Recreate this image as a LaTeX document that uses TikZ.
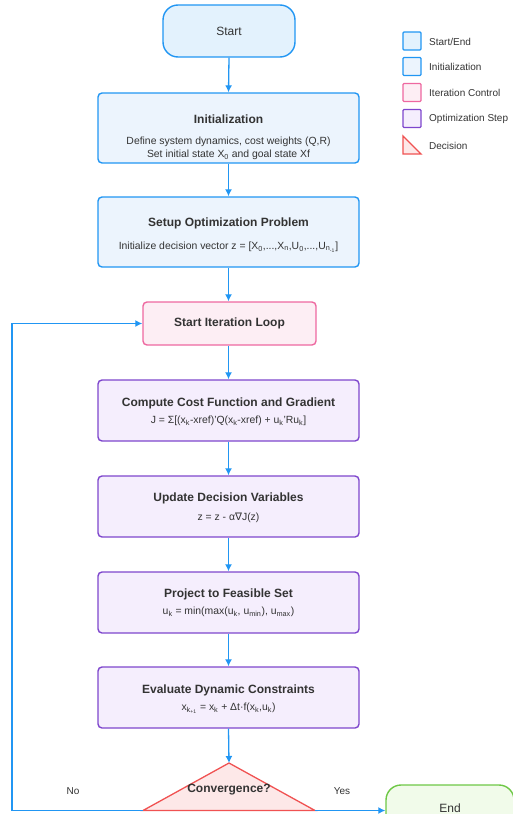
\documentclass[tikz,border=0pt]{standalone}
\usepackage{fontspec}
\setmainfont{Liberation Sans}
\newfontfamily\symfont{DejaVu Sans}
\usetikzlibrary{arrows.meta,calc,positioning}
\definecolor{lineblue}{RGB}{33,150,243}
\definecolor{startfill}{RGB}{227,242,253}
\definecolor{initfill}{RGB}{236,244,253}
\definecolor{iterdraw}{RGB}{238,104,160}
\definecolor{iterfill}{RGB}{253,238,244}
\definecolor{optdraw}{RGB}{126,70,205}
\definecolor{optfill}{RGB}{245,238,253}
\definecolor{decdraw}{RGB}{240,82,82}
\definecolor{decfill}{RGB}{253,232,232}
\definecolor{enddraw}{RGB}{110,200,70}
\definecolor{endfill}{RGB}{241,251,234}
\definecolor{textgray}{RGB}{51,51,51}

\begin{document}
\begin{tikzpicture}[x=1pt,y=-1pt,
              box/.style={draw,rounded corners=4pt,line width=1.4pt,
                  minimum width=261pt,inner sep=0pt},
              terminal/.style={draw,rounded corners=15pt,line width=1.4pt,
                  inner sep=0pt,text=textgray,font=\fontsize{12}{14}\selectfont},
              initbox/.style={box,draw=lineblue,fill=initfill},
              optbox/.style={box,draw=optdraw,fill=optfill,minimum height=61pt},
              ttl/.style={font=\bfseries\fontsize{12}{14}\selectfont,text=textgray,inner sep=0pt},
              body/.style={font=\fontsize{10.4}{13}\selectfont,text=textgray,
                  align=center,inner sep=0pt},
              legtext/.style={font=\fontsize{10}{12}\selectfont,text=textgray,
                  anchor=west,inner sep=0pt},
              legbox/.style={draw,line width=1.3pt,rounded corners=1pt,
                  minimum size=18pt,inner sep=0pt},
              flow/.style={-{Latex[length=7pt,width=7pt]},draw=lineblue,line width=1.3pt}
            ]
            \useasboundingbox (0,0) rectangle (512,814);

            % start and set-up
            \node[terminal,draw=lineblue,fill=startfill,minimum width=132pt,
                  minimum height=52pt] (start) at (229,31) {Start};
            \node[initbox,minimum height=70pt] (init) at (228.5,128) {};
            \node[ttl] (initT) at (228.5,119) {Initialization};
            \node[body] (initB) at (228.5,148.5) {Define system dynamics, cost weights (Q,R)\\
              Set initial state X\textsubscript{0} and goal state Xf};
            \node[initbox,minimum height=70pt] (setup) at (228.5,232) {};
            \node[ttl] (setupT) at (228.5,223) {Setup Optimization Problem};
            \node[body] (setupB) at (228.5,247) {Initialize decision vector z =
              [X\textsubscript{0},...,X\textsubscript{n},U\textsubscript{0},...,U\textsubscript{n\textsubscript{-1}}]};

            % iteration
            \node[box,draw=iterdraw,fill=iterfill,minimum width=173pt,
                  minimum height=43pt] (loop) at (229.5,323.5) {};
            \node[ttl] (loopT) at (229.5,323.5) {Start Iteration Loop};

            \node[optbox] (cost) at (228.5,410.5) {};
            \node[ttl] (costT) at (228.5,403) {Compute Cost Function and Gradient};
            \node[body] (costB) at (228.5,421) {J = Σ[(x\textsubscript{k}-xref)'Q(x\textsubscript{k}-xref)
              + u\textsubscript{k}'Ru\textsubscript{k}]};
            \node[optbox] (update) at (228.5,506.5) {};
            \node[ttl] (updateT) at (228.5,498.5) {Update Decision Variables};
            \node[body] (updateB) at (228.5,517.5) {z = z - α{\symfont ∇}J(z)};
            \node[optbox] (proj) at (228.5,602.5) {};
            \node[ttl] (projT) at (228.5,594) {Project to Feasible Set};
            \node[body] (projB) at (228.5,612) {u\textsubscript{k} = min(max(u\textsubscript{k},
              u\textsubscript{min}), u\textsubscript{max})};
            \node[optbox] (eval) at (228.5,697.5) {};
            \node[ttl] (evalT) at (228.5,690) {Evaluate Dynamic Constraints};
            \node[body] (evalB) at (228.5,708.5) {x\textsubscript{k\textsubscript{+1}} =
              x\textsubscript{k} + Δt·f(x\textsubscript{k},u\textsubscript{k})};

            % decision
            \coordinate (dt) at (229,763);
            \coordinate (dl) at (143,810.5);
            \coordinate (dr) at (315,810.5);
            \coordinate (nocorner) at (12,810.5);
            \draw[draw=decdraw,fill=decfill,line width=1.3pt,line join=miter]
              (dt) -- (dr) -- (dl) -- cycle;
            \node[ttl] (conv) at (229,790) {Convergence?};
            \node[terminal,draw=enddraw,fill=endfill,minimum width=128pt,
                  minimum height=46pt] (finish) at (450,808) {End};
            \node[legtext,anchor=center] (nolab) at (73,791) {No};
            \node[legtext,anchor=center] (yeslab) at (342,791) {Yes};

            \draw[flow] (start.south) -- (init.north);
            \draw[flow] (init.south) -- (setup.north);
            \draw[flow] (setup.south) -- (setup.south |- loop.north);
            \draw[flow] (loop.south -| cost.north) -- (cost.north);
            \draw[flow] (cost.south) -- (update.north);
            \draw[flow] (update.south) -- (proj.north);
            \draw[flow] (proj.south) -- (eval.north);
            \draw[flow] (eval.south) -- (dt);
            \draw[flow] (dl) -- (nocorner) |- (loop.west);
            \draw[flow] (dr) -- (dr -| finish.west);

            % legend
            \node[legbox,draw=lineblue,fill=startfill] (lgstart) at (412,41) {};
            \node[legtext] (lgstartT) at (429,42) {Start/End};
            \node[legbox,draw=lineblue,fill=initfill] (lginit) at (412,66.5) {};
            \node[legtext] (lginitT) at (429,67) {Initialization};
            \node[legbox,draw=iterdraw,fill=iterfill] (lgiter) at (412,92.5) {};
            \node[legtext] (lgiterT) at (429,93) {Iteration Control};
            \node[legbox,draw=optdraw,fill=optfill] (lgopt) at (412,118.5) {};
            \node[legtext] (lgoptT) at (429,118.5) {Optimization Step};
            \draw[draw=decdraw,fill=decfill,line width=1.3pt]
              (403,136) -- (421,154) -- (403,154) -- cycle;
            \node[legtext] (lgdecT) at (429,146) {Decision};
          \end{tikzpicture}
\end{document}
